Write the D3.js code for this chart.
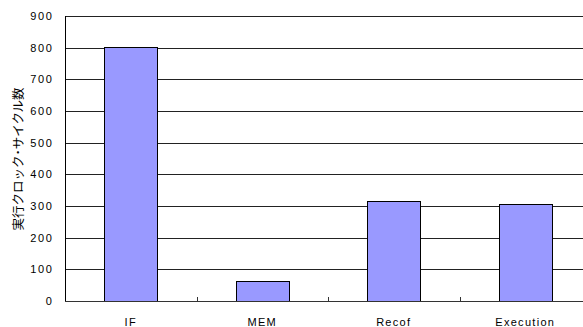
<!DOCTYPE html>
<html><head><meta charset="utf-8">
<script src="https://cdn.jsdelivr.net/npm/d3@7"></script>
<style>body{margin:0;background:#fff}svg{display:block}</style>
</head><body>
<svg id="c" width="583" height="327"></svg>
<script>
const categories = ["IF", "MEM", "Recof", "Execution"];
const values = [803, 64, 317, 307];
const yTicks = [0, 100, 200, 300, 400, 500, 600, 700, 800, 900];
const yTitle = "実行クロック･サイクル数";

(function () {
const svg = d3.select("#c");
const mLeft = 65, mTop = 16, mBottom = 301, mRight = 591;
const x = d3.scaleBand().domain(categories).range([mLeft, mRight]).paddingInner(0).paddingOuter(0);
const y = d3.scaleLinear().domain([0, 900]).range([mBottom, mTop]);

// gridlines
svg.append("g").selectAll("line").data(yTicks.filter(d => d > 0)).join("line")
  .attr("x1", mLeft).attr("x2", 583)
  .attr("y1", d => Math.round(y(d)) + 0.5).attr("y2", d => Math.round(y(d)) + 0.5)
  .attr("stroke", "#222").attr("stroke-width", 1);

// bars
const bw = x.bandwidth() * 0.4;
svg.append("g").selectAll("rect").data(values).join("rect")
  .attr("x", (d, i) => Math.round(x(categories[i]) + (x.bandwidth() - bw) / 2) + 0.5)
  .attr("y", d => Math.round(y(d)) + 0.5)
  .attr("width", Math.round(bw))
  .attr("height", d => Math.round(y(0)) - Math.round(y(d)))
  .attr("fill", "#9999FF").attr("stroke", "#000").attr("stroke-width", 1);

// y axis
const ya = svg.append("g").attr("transform", `translate(${mLeft + 0.5},0)`)
  .call(d3.axisLeft(y).tickValues(yTicks).tickSize(0).tickPadding(12).tickFormat(d3.format("d")));
ya.select(".domain").attr("stroke", "#000").attr("d", `M0,${mTop}V${mBottom}`);
ya.selectAll(".tick text").attr("font-family", "Liberation Sans, Arial, sans-serif")
  .attr("font-size", 11).attr("letter-spacing", "1.6px").attr("fill", "#000");

// x axis
const xa = svg.append("g").attr("transform", `translate(0,${Math.round(mBottom) + 0.5})`)
  .call(d3.axisBottom(x).tickSize(0).tickPadding(17));
xa.select(".domain").attr("stroke", "#333").attr("d", `M${mLeft},0H583`);
xa.selectAll(".tick text").attr("font-family", "Liberation Sans, Arial, sans-serif")
  .attr("font-size", 11).attr("letter-spacing", "1.3px").attr("fill", "#000");
// category boundary ticks
svg.append("g").selectAll("line").data(categories.slice(1)).join("line")
  .attr("x1", d => Math.round(x(d)) + 0.5).attr("x2", d => Math.round(x(d)) + 0.5)
  .attr("y1", mBottom - 4).attr("y2", mBottom)
  .attr("stroke", "#333");

// y title
svg.append("text")
  .attr("transform", `translate(23,159) rotate(-90)`)
  .attr("text-anchor", "middle")
  .attr("font-family", "Noto Sans CJK JP, sans-serif")
  .attr("font-size", 12.5).attr("fill", "#000")
  .text(yTitle);
})();
</script>
</body></html>
